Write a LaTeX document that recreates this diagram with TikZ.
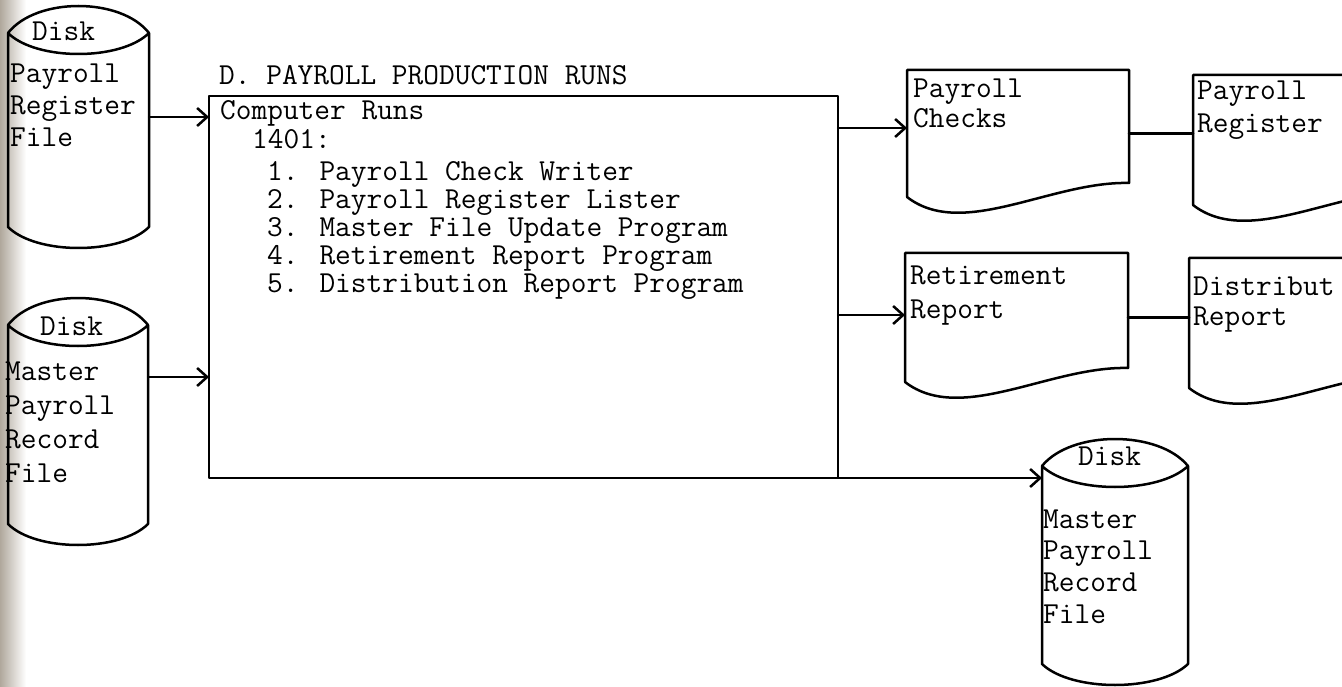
\documentclass[tikz,border=0pt]{standalone}
\usetikzlibrary{arrows.meta,calc}
\definecolor{scan}{RGB}{176,168,156}
\newcommand\docdraw[2]{\draw[ln] (#1.south west) -- (#1.north west) -- (#1.north east) -- ([yshift=14pt]#1.south east) .. controls +({-0.35*#2},-2) and +({0.25*#2},43) .. (#1.south west);}
\newcommand\diskdraw[2]{\draw[ln] ([yshift=-27pt]#1.north west) .. controls +({0.2*#2},-36) and +({-0.2*#2},-36) .. ([yshift=-27pt]#1.north east)
   .. controls +({-0.2*#2},28) and +({0.2*#2},28) .. ([yshift=-27pt]#1.north west) -- ([yshift=21pt]#1.south west)
   .. controls +({0.2*#2},28) and +({-0.2*#2},28) .. ([yshift=21pt]#1.south east) -- ([yshift=-27pt]#1.north east);}
\begin{document}
\begin{tikzpicture}[x=1pt,y=-1pt,
  ln/.style={line width=2.5pt, line join=round, line cap=round},
  arr/.style={ln, -{Straight Barb[length=10pt,width=18pt]}},
  shp/.style={inner sep=0pt, outer sep=0pt, anchor=north west},
  txt/.style={inner sep=0pt, anchor=base west, font=\fontsize{30.5}{30}\selectfont\ttfamily}]
\useasboundingbox (0,0) rectangle (1342,687);
\shade[left color=scan, right color=white] (0,0) rectangle (26,687);
% shapes
\node[shp, minimum width=141pt, minimum height=242pt] (d1) at (8,6) {};
\node[shp, minimum width=140pt, minimum height=247pt] (d2) at (8,298) {};
\node[shp, minimum width=146pt, minimum height=246pt] (d3) at (1042,439) {};
\node[shp, draw, ln, minimum width=629pt, minimum height=382pt] (runs) at (209,96) {};
\node[shp, minimum width=222pt, minimum height=127pt] (chk) at (907,70) {};
\node[shp, minimum width=222pt, minimum height=130pt] (reg) at (1193,75) {};
\node[shp, minimum width=223pt, minimum height=129pt] (ret) at (905,253) {};
\node[shp, minimum width=222pt, minimum height=130pt] (dist) at (1189,258) {};
\diskdraw{d1}{141}
\diskdraw{d2}{140}
\diskdraw{d3}{146}
\docdraw{chk}{222}
\docdraw{reg}{222}
\docdraw{ret}{223}
\docdraw{dist}{222}
% texts
\node[txt] (d1a) at (32,41) {Disk};
\node[txt] (d1b) at (10,83) {Payroll};
\node[txt] (d1c) at (10,115) {Register};
\node[txt] (d1d) at (10,147) {File};
\node[txt] (d2a) at (40,335) {Disk};
\node[txt] (d2b) at (5,380) {Master};
\node[txt] (d2c) at (5,414) {Payroll};
\node[txt] (d2d) at (5,448) {Record};
\node[txt] (d2e) at (5,482) {File};
\node[txt] (d3a) at (1078,465) {Disk};
\node[txt] (d3b) at (1043,528) {Master};
\node[txt] (d3c) at (1043,559) {Payroll};
\node[txt] (d3d) at (1043,591) {Record};
\node[txt] (d3e) at (1043,623) {File};
\node[txt] (title) at (219,85) {D. PAYROLL PRODUCTION RUNS};
\node[txt] (r0) at (220,120) {Computer Runs};
\node[txt] (r1) at (252,149) {1401:};
\node[txt] (r2) at (267,181) {1. Payroll Check Writer};
\node[txt] (r3) at (267,209) {2. Payroll Register Lister};
\node[txt] (r4) at (267,237) {3. Master File Update Program};
\node[txt] (r5) at (267,265) {4. Retirement Report Program};
\node[txt] (r6) at (267,293) {5. Distribution Report Program};
\node[txt] (c1) at (913,98) {Payroll};
\node[txt] (c2) at (913,128) {Checks};
\node[txt] (g1) at (1197,100) {Payroll};
\node[txt] (g2) at (1197,133) {Register};
\node[txt] (e1) at (910,285) {Retirement};
\node[txt] (e2) at (910,318) {Report};
\node[txt] (s1) at (1193,295) {Distribut};
\node[txt] (s2) at (1193,325) {Report};
% connectors
\coordinate (a1) at ([yshift=10pt]d1.east);
\coordinate (a2) at ([yshift=44.5pt]d2.east);
\coordinate (a3) at ([yshift=5.5pt]chk.west);
\coordinate (a4) at ([yshift=2.5pt]ret.west);
\draw[arr] (a1) -- (a1 -| runs.west);
\draw[arr] (a2) -- (a2 -| runs.west);
\draw[arr] (runs.east |- a3) -- (a3);
\draw[arr] (runs.east |- a4) -- (a4);
\draw[arr] (runs.south east) -- (runs.south east -| d3.west);
\draw[ln] (chk.east) -- (chk.east -| reg.west);
\draw[ln] (ret.east) -- (ret.east -| dist.west);
\end{tikzpicture}
\end{document}
